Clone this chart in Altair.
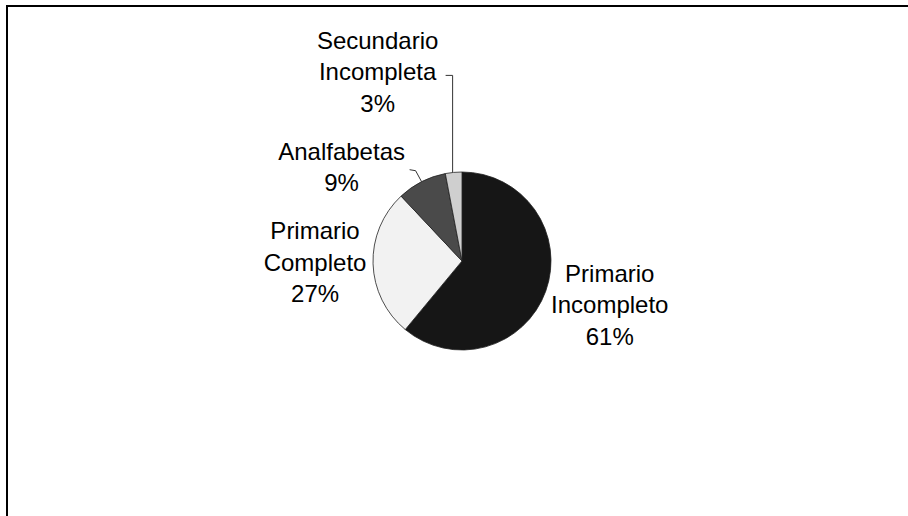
import altair as alt
import pandas as pd

# ---- data ----
categories = ["Primario Incompleto", "Primario Completo", "Analfabetas", "Secundario Incompleta"]
label_lines = [["Primario", "Incompleto"], ["Primario", "Completo"], ["Analfabetas"], ["Secundario", "Incompleta"]]
values = [61, 27, 9, 3]
slice_order = [1, 2, 3, 4]

labels = ["\n".join(lines + [f"{v}%"]) for lines, v in zip(label_lines, values)]
df = pd.DataFrame({"cat": categories, "value": values, "order": slice_order, "label": labels})

# ---- layout / style ----
W, H = 908, 516
CX, CY, R = 462, 261, 89
colors = ["#161616", "#f2f2f2", "#4a4a4a", "#cfcfcf"]
FONT = "Liberation Sans"
LH = 31.5

base = (
    alt.Chart(df)
    .transform_window(cum="sum(value)", sort=[alt.SortField("order")])
    .transform_calculate(
        mid="(datum.cum - datum.value/2)/100*2*PI",
    )
    .transform_calculate(
        ax=f"{CX} + {R}*sin(datum.mid)",
        ay=f"{CY} - {R}*cos(datum.mid)",
    )
)

pie = alt.Chart(df).mark_arc(radius=R, stroke="#222222", strokeWidth=0.8).encode(
    theta=alt.Theta("value:Q", stack=True),
    order=alt.Order("order:Q"),
    color=alt.Color("cat:N", scale=alt.Scale(domain=categories, range=colors), legend=None),
    x=alt.value(CX),
    y=alt.value(CY),
)

# offset of label block centre from the slice's mid-arc point
offsets = {
    "Primario Incompleto": (64, 15),
    "Primario Completo": (-58, 0),
    "Analfabetas": (-80, -13),
    "Secundario Incompleta": (-76, -99),
}

text_layers = []
for cat, lines in zip(categories, label_lines):
    dx, dy = offsets[cat]
    n = len(lines) + 1
    dy_first = dy - (n - 1) * LH / 2
    t = (
        base.transform_filter(alt.datum.cat == cat)
        .mark_text(
            dx=dx, dy=dy_first, lineBreak="\n", lineHeight=LH, fontSize=24,
            font=FONT, align="center", baseline="middle", color="black",
        )
        .encode(
            x=alt.X("ax:Q", scale=None, axis=None),
            y=alt.Y("ay:Q", scale=None, axis=None),
            text="label:N",
        )
    )
    text_layers.append(t)

# leader lines
sec = base.transform_filter(alt.datum.cat == "Secundario Incompleta")
sec_v = sec.transform_calculate(
    x1="datum.ax - 1", y1="datum.ay", y2="datum.ay - 97"
).mark_rule(color="#333333", strokeWidth=1).encode(
    x=alt.X("x1:Q", scale=None, axis=None),
    y=alt.Y("y1:Q", scale=None, axis=None),
    y2="y2:Q",
)
sec_h = sec.transform_calculate(
    x1="datum.ax - 8", x2="datum.ax - 1", y1="datum.ay - 97"
).mark_rule(color="#333333", strokeWidth=1).encode(
    x=alt.X("x1:Q", scale=None, axis=None),
    x2="x2:Q",
    y=alt.Y("y1:Q", scale=None, axis=None),
)
ana = base.transform_filter(alt.datum.cat == "Analfabetas")
ana_d = ana.transform_calculate(
    x1="datum.ax - 6", y1="datum.ay - 11", x2="datum.ax", y2="datum.ay"
).mark_rule(color="#333333", strokeWidth=1).encode(
    x=alt.X("x1:Q", scale=None, axis=None),
    y=alt.Y("y1:Q", scale=None, axis=None),
    x2="x2:Q",
    y2="y2:Q",
)
ana_h = ana.transform_calculate(
    x1="datum.ax - 12", y1="datum.ay - 12", x2="datum.ax - 6", y2="datum.ay - 11"
).mark_rule(color="#333333", strokeWidth=1).encode(
    x=alt.X("x1:Q", scale=None, axis=None),
    y=alt.Y("y1:Q", scale=None, axis=None),
    x2="x2:Q",
    y2="y2:Q",
)

border = alt.Chart(alt.Data(values=[{}])).mark_rect(
    filled=False, stroke="black", strokeWidth=2
).encode(
    x=alt.value(7), x2=alt.value(W + 10), y=alt.value(6), y2=alt.value(H + 10)
)

chart = (
    alt.layer(border, pie, sec_v, sec_h, ana_d, ana_h, *text_layers)
    .properties(width=W, height=H, padding=0, autosize=alt.AutoSizeParams(type="none"), background="white")
    .configure_view(stroke=None)
)

chart.save("out.html", embed_options={"renderer": "svg", "actions": False})
